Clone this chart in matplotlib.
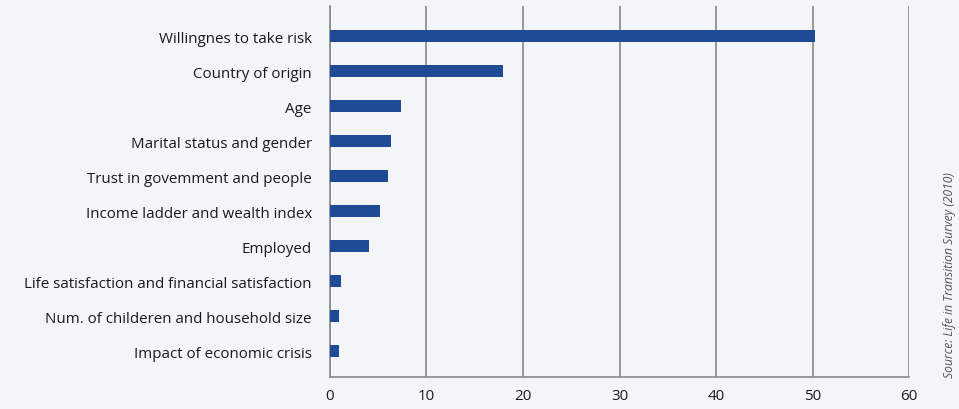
import matplotlib.pyplot as plt

# data
categories = [
    "Willingnes to take risk",
    "Country of origin",
    "Age",
    "Marital status and gender",
    "Trust in govemment and people",
    "Income ladder and wealth index",
    "Employed",
    "Life satisfaction and financial satisfaction",
    "Num. of childeren and household size",
    "Impact of economic crisis",
]
values = [50.3, 17.9, 7.4, 6.3, 6.0, 5.2, 4.0, 1.1, 0.9, 0.9]
x_ticks = [0, 10, 20, 30, 40, 50, 60]
source = "Source: Life in Transition Survey (2010)"

plt.rcParams['font.family'] = ['Open Sans', 'DejaVu Sans']

BG = "#f4f5f9"
fig = plt.figure(figsize=(9.59, 4.10), dpi=100, facecolor=BG)
ax = fig.add_axes([0.344, 0.078, 0.604, 0.905], facecolor=BG)

pos = list(range(len(categories)))
ax.barh(pos, values, height=0.35, color="#1f4a96", zorder=3)

ax.set_ylim(9.74, -0.86)
ax.set_xlim(0, 60)
ax.set_xticks(x_ticks)
ax.set_yticks(pos)
ax.set_yticklabels(categories, fontsize=10.9, color="#1a1a1a")
ax.tick_params(axis="x", labelsize=10.9, length=0, pad=8, colors="#1a1a1a")
ax.tick_params(axis="y", length=0, pad=13)

ax.grid(axis="x", color="#888888", linewidth=1.2, zorder=1)
for s in ["top", "right"]:
    ax.spines[s].set_visible(False)
ax.spines["left"].set_color("#888888")
ax.spines["left"].set_linewidth(1.2)
ax.spines["bottom"].set_color("#888888")
ax.spines["bottom"].set_linewidth(1.2)

fig.text(0.99, 0.33, source, rotation=90, fontsize=8.7, color="#555555",
         ha="center", va="center", style="italic")

plt.savefig("out.png", dpi=100, facecolor=BG)
